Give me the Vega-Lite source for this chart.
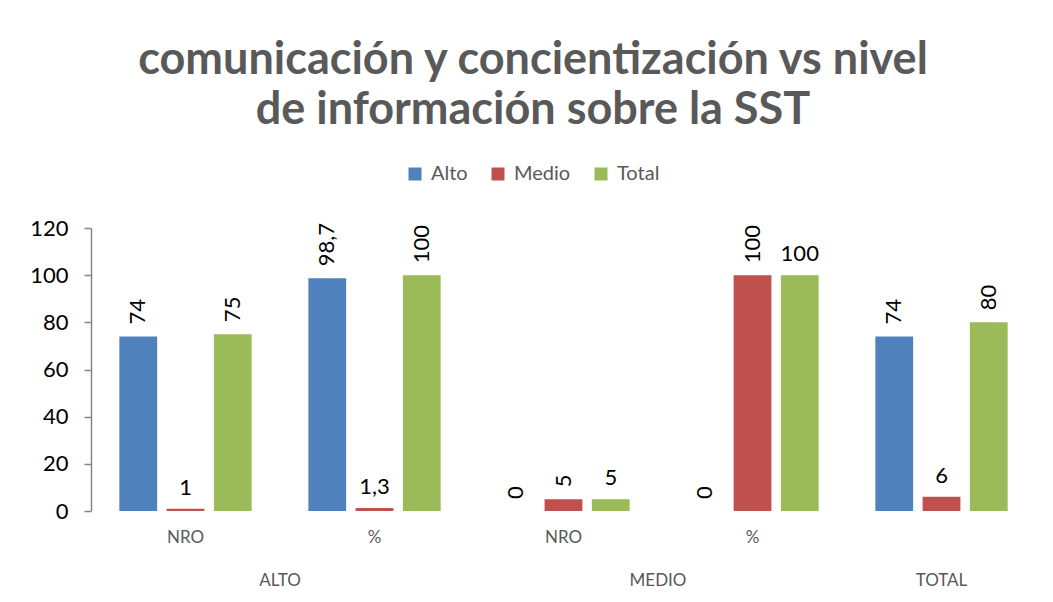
{
  "$schema": "https://vega.github.io/schema/vega-lite/v6.json",
  "padding": {"left": 29, "top": 38, "right": 10, "bottom": 5},
  "background": "white",
  "config": {
    "locale": {"number": {"decimal": ",", "thousands": ".", "grouping": [3], "currency": ["", " €"]}},
    "font": "Lato",
    "view": {"stroke": null},
    "legend": {"layout": {"top": {"anchor": "middle"}}}
  },
  "title": {
    "text": ["comunicación y concientización vs nivel", "de información sobre la SST"],
    "fontSize": 45,
    "font": "Lato",
    "fontWeight": "bold",
    "color": "#595959",
    "lineHeight": 50,
    "anchor": "start",
    "align": "center",
    "frame": "group",
    "dx": 442,
    "offset": 31
  },
  "data": {
    "values": [
      {"grupo": "ALTO", "sub": "NRO", "serie": "Alto", "valor": 74},
      {"grupo": "ALTO", "sub": "NRO", "serie": "Medio", "valor": 1},
      {"grupo": "ALTO", "sub": "NRO", "serie": "Total", "valor": 75},
      {"grupo": "ALTO", "sub": "%", "serie": "Alto", "valor": 98.7},
      {"grupo": "ALTO", "sub": "%", "serie": "Medio", "valor": 1.3},
      {"grupo": "ALTO", "sub": "%", "serie": "Total", "valor": 100},
      {"grupo": "MEDIO", "sub": "NRO", "serie": "Alto", "valor": 0},
      {"grupo": "MEDIO", "sub": "NRO", "serie": "Medio", "valor": 5},
      {"grupo": "MEDIO", "sub": "NRO", "serie": "Total", "valor": 5},
      {"grupo": "MEDIO", "sub": "%", "serie": "Alto", "valor": 0},
      {"grupo": "MEDIO", "sub": "%", "serie": "Medio", "valor": 100},
      {"grupo": "MEDIO", "sub": "%", "serie": "Total", "valor": 100},
      {"grupo": "TOTAL", "sub": "TOTAL", "serie": "Alto", "valor": 74},
      {"grupo": "TOTAL", "sub": "TOTAL", "serie": "Medio", "valor": 6},
      {"grupo": "TOTAL", "sub": "TOTAL", "serie": "Total", "valor": 80}
    ]
  },
  "facet": {
    "column": {
      "field": "grupo",
      "type": "nominal",
      "sort": ["ALTO", "MEDIO", "TOTAL"],
      "title": null,
      "header": {
        "orient": "bottom",
        "labelOrient": "bottom",
        "labelFontSize": 17,
        "labelColor": "#595959",
        "labelFont": "Lato",
        "labelPadding": 28
      }
    }
  },
  "spacing": 0,
  "resolve": {"scale": {"x": "independent", "xOffset": "independent"}},
  "spec": {
    "width": {"step": 189, "for": "position"},
    "height": 283,
    "encoding": {
      "x": {
        "field": "sub",
        "type": "nominal",
        "sort": ["NRO", "%"],
        "scale": {"paddingInner": 0.3, "paddingOuter": 0.15},
        "axis": {
          "title": null,
          "domain": false,
          "ticks": false,
          "labelAngle": 0,
          "labelFontSize": 17,
          "labelColor": "#595959",
          "labelPadding": 18,
          "labelExpr": "datum.value == 'TOTAL' ? '' : datum.value"
        }
      },
      "xOffset": {
        "field": "serie",
        "type": "nominal",
        "sort": ["Alto", "Medio", "Total"],
        "scale": {"paddingInner": 0.2, "paddingOuter": 0}
      },
      "y": {
        "field": "valor",
        "type": "quantitative",
        "scale": {"domain": [0, 120], "nice": false},
        "axis": {
          "title": null,
          "values": [0, 20, 40, 60, 80, 100, 120],
          "grid": false,
          "domainColor": "#868686",
          "domainWidth": 1.5,
          "tickColor": "#868686",
          "tickWidth": 1.5,
          "tickSize": 7,
          "labelFontSize": 22,
          "labelColor": "#000000",
          "labelPadding": 16
        }
      }
    },
    "layer": [
      {
        "mark": {"type": "bar"},
        "encoding": {
          "color": {
            "field": "serie",
            "type": "nominal",
            "scale": {"domain": ["Alto", "Medio", "Total"], "range": ["#4F81BD", "#C0504D", "#9BBB59"]},
            "legend": {
              "orient": "top",
              "title": null,
              "direction": "horizontal",
              "symbolType": "square",
              "symbolSize": 169,
              "symbolStrokeWidth": 0,
              "labelFontSize": 20,
              "labelColor": "#595959",
              "labelFont": "Lato",
              "columnPadding": 20,
              "labelOffset": 6,
              "offset": 33
            }
          }
        }
      },
      {
        "transform": [{"filter": "!((datum.serie == 'Medio' && (datum.grupo == 'ALTO' || datum.grupo == 'TOTAL')) || (datum.serie == 'Total' && datum.grupo == 'MEDIO'))"}],
        "mark": {"type": "text", "angle": 270, "align": "left", "baseline": "middle", "dx": 12, "fontSize": 22, "color": "#000000"},
        "encoding": {"text": {"field": "valor", "type": "quantitative", "format": "~g"}}
      },
      {
        "transform": [{"filter": "(datum.serie == 'Medio' && (datum.grupo == 'ALTO' || datum.grupo == 'TOTAL')) || (datum.serie == 'Total' && datum.grupo == 'MEDIO')"}],
        "mark": {"type": "text", "align": "center", "baseline": "bottom", "dy": -9, "fontSize": 22, "color": "#000000"},
        "encoding": {"text": {"field": "valor", "type": "quantitative", "format": "~g"}}
      }
    ]
  }
}
